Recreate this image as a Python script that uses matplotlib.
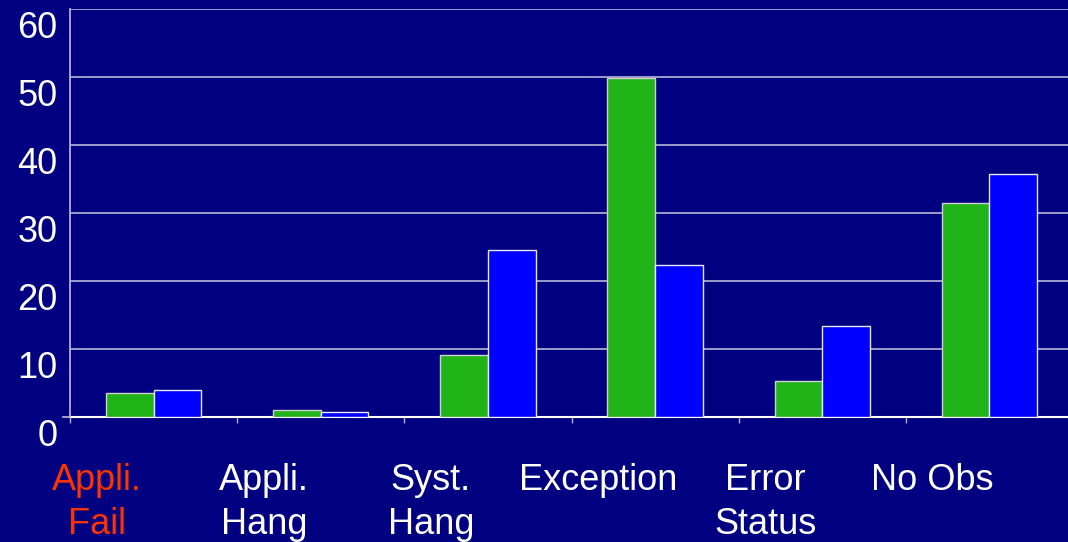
import matplotlib
matplotlib.use("Agg")
import matplotlib.pyplot as plt
from matplotlib.transforms import ScaledTranslation
import numpy as np

plt.rcParams['font.family'] = ['Liberation Sans', 'DejaVu Sans']

categories = ["Appli.\nFail", "Appli.\nHang", "Syst.\nHang", "Exception", "Error\nStatus", "No Obs"]
label_colors = ["#FF3300", "white", "white", "white", "white", "white"]
green_values = [3.6, 1.1, 9.1, 49.9, 5.3, 31.4]
blue_values = [3.9, 0.7, 24.6, 22.4, 13.4, 35.8]
yticks = [0, 10, 20, 30, 40, 50, 60]

bg = "#000080"
W, H = 1068, 542
fig = plt.figure(figsize=(W / 100, H / 100), dpi=100, facecolor=bg)
ax = fig.add_axes([70 / W, (H - 417) / H, (W - 70) / W, 408 / H], facecolor=bg)

x = np.arange(len(categories))
bw = 0.285
ax.bar(x - bw / 2, green_values, bw, color="#20B418", edgecolor="#D0D0D0", linewidth=1.0, zorder=3)
ax.bar(x + bw / 2, blue_values, bw, color="#0000FF", edgecolor="#E8E8F0", linewidth=1.0, zorder=3)

ax.set_ylim(0, 60)
ax.set_xlim(-0.5, 5.47)
ax.set_yticks(yticks)
ax.yaxis.grid(True, color="#A8A8D0", linewidth=1.3, zorder=1)
ax.set_axisbelow(True)

for s in ["top", "right"]:
    ax.spines[s].set_visible(False)
ax.spines["left"].set_color("#B0B0D0")
ax.spines["left"].set_linewidth(1.3)
ax.spines["bottom"].set_color("white")
ax.spines["bottom"].set_linewidth(1.5)

ax.tick_params(axis="y", length=0, pad=9, labelsize=26, labelcolor="white")
for lab in ax.get_yticklabels():
    lab.set_transform(lab.get_transform() + ScaledTranslation(0, -15 / 100, fig.dpi_scale_trans))

# short outward tick at zero on the value axis
ax.plot([-0.007, 0], [0, 0], transform=ax.transAxes, color="#B0B0D0",
        linewidth=1.3, clip_on=False, zorder=4)

# x ticks at category boundaries
ax.set_xticks(np.arange(len(categories)) - 0.5)
ax.set_xticklabels([])
ax.tick_params(axis="x", length=4, width=1, color="#B0B0D0", direction="out")

# category labels
shift = ScaledTranslation(-57 / 100, 0, fig.dpi_scale_trans)
for xi, lab, c in zip(x, categories, label_colors):
    ax.text(xi, -6.8, lab, ha="center", va="top", fontsize=26, color=c,
            linespacing=1.33, transform=ax.transData + shift, clip_on=False)

fig.savefig("out.png", dpi=100, facecolor=bg)
